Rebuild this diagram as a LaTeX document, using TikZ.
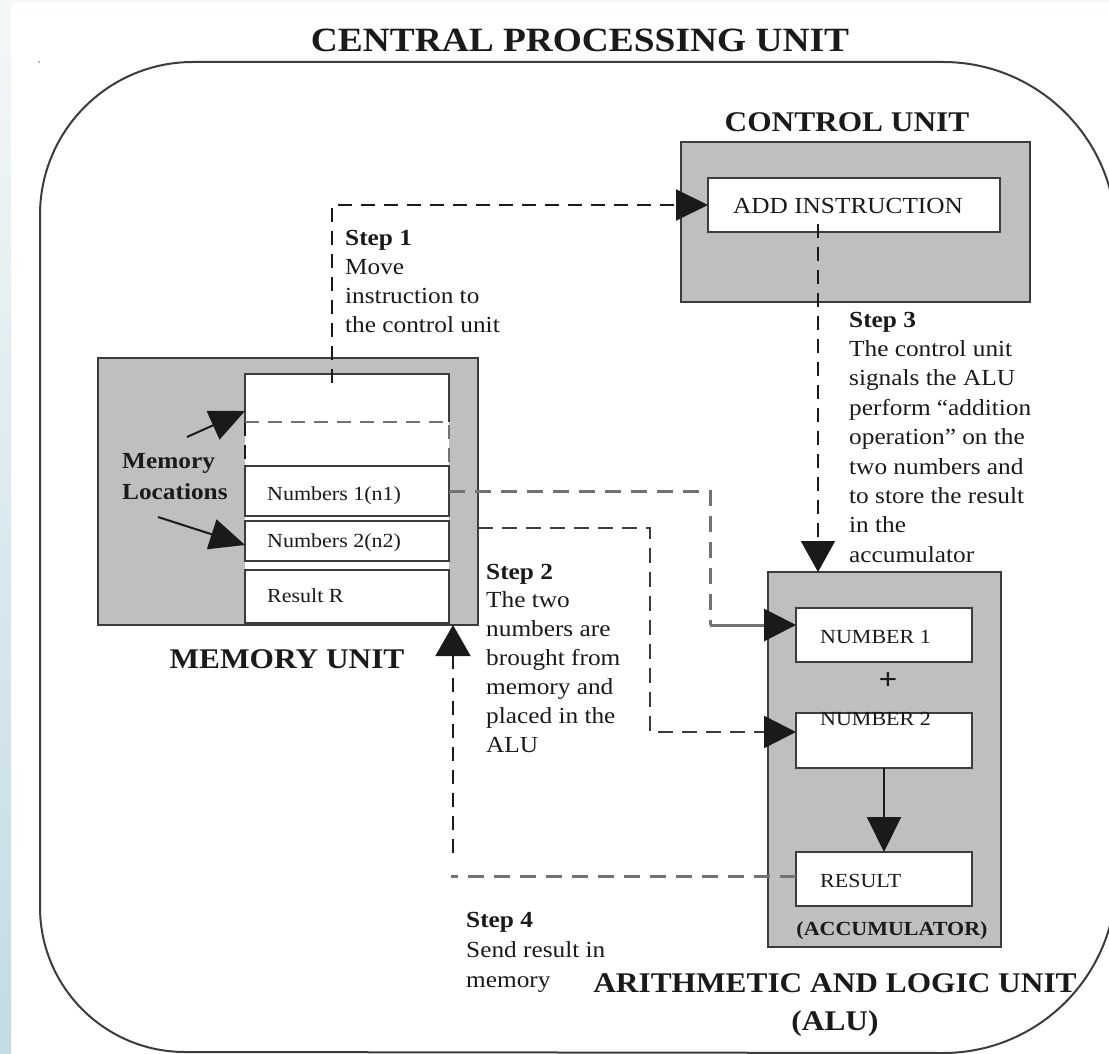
\documentclass[tikz,border=0pt]{standalone}
\usepackage{fontspec}
\setmainfont{Liberation Serif}[FakeStretch=1.1]
\usetikzlibrary{arrows.meta}
\definecolor{boxgray}{HTML}{BFBFBF}
\definecolor{edge}{HTML}{3C3C3C}
\definecolor{ink}{HTML}{1A1A1A}
\definecolor{dashgray}{HTML}{727272}
\definecolor{stripTop}{HTML}{F4F7F8}
\definecolor{stripBot}{HTML}{C3DBE3}

\begin{document}
\begin{tikzpicture}[x=1pt,y=-1pt,
  unitbox/.style={draw=edge, line width=2.8pt, fill=boxgray, inner sep=0pt, outer sep=0pt, anchor=north west},
  cellbox/.style={draw=edge, line width=2.2pt, fill=white, inner sep=0pt, outer sep=0pt, anchor=north west},
  lbl/.style={inner sep=0pt, text=ink},
  body/.style={lbl, anchor=base west, font=\fontsize{23}{28}\selectfont},
  bodyb/.style={lbl, anchor=base west, font=\fontsize{23}{28}\selectfont\bfseries},
  small/.style={lbl, anchor=base west, font=\fontsize{20}{24}\selectfont},
  heading/.style={lbl, anchor=base, font=\fontsize{28.5}{34}\selectfont\bfseries},
  darkdash/.style={draw=ink, line width=2pt, dash pattern=on 14pt off 9pt},
  greydash/.style={draw=dashgray, line width=3pt, dash pattern=on 16pt off 10pt},
  headtip/.style 2 args={-{Triangle[length=#1pt,width=#2pt,color=ink]}},
]
\useasboundingbox (0,0) rectangle (1109,1054);
\clip (0,0) rectangle (1109,1054);

% page background and left strip
\fill[white] (0,0) rectangle (1109,1054);
\shade[top color=stripTop, bottom color=stripBot] (0,0) rectangle (11,1054);
\fill[stripTop] (11,0) rectangle (1109,3);
\fill[edge!60] (39,62) circle (1pt);

% CPU outline with rounded corners
\draw[edge, line width=2pt]
  (193,62) -- (943,62) arc[start angle=-90, end angle=0, radius=173]
  -- (1116,880) arc[start angle=0, end angle=90, radius=173]
  -- (185,1052) arc[start angle=90, end angle=180, radius=145]
  -- (40,215) arc[start angle=180, end angle=270, radius=153] -- cycle;

\node[lbl, anchor=base, font=\fontsize{34}{40}\selectfont\bfseries] (cputitle) at (580,52) {CENTRAL PROCESSING UNIT};

% ---------------- control unit
\node[heading] (cutitle) at (847,132) {CONTROL UNIT};
\node[unitbox, minimum width=349pt, minimum height=160pt] (cu) at (681,142) {};
\node[cellbox, minimum width=292pt, minimum height=54pt] (add) at (708,178) {};
\node[body] (addtxt) at (733,214) {ADD INSTRUCTION};

% ---------------- memory unit
\node[unitbox, minimum width=380pt, minimum height=267pt] (mem) at (98,358) {};
\fill[white] (245,374) rectangle (449,623);
\draw[edge, line width=2.2pt] (245,422) |- (449,374) -- (449,422);
\draw[darkdash, line width=2pt] (245,422) -- (245,466);
\draw[dashgray, line width=2.2pt, dash pattern=on 14pt off 9pt] (245,422) -- (449,422) -- (449,466);
\node[cellbox, minimum width=204pt, minimum height=50pt] (n1cell) at (245,466) {};
\node[cellbox, minimum width=204pt, minimum height=40pt] (n2cell) at (245,521) {};
\node[cellbox, minimum width=204pt, minimum height=53pt] (rcell) at (245,570) {};
\node[small] (n1txt) at (267,500) {Numbers 1(n1)};
\node[small] (n2txt) at (267,547) {Numbers 2(n2)};
\node[small] (rtxt) at (267,602) {Result R};
\node[bodyb] (ml1) at (122,468) {Memory};
\node[bodyb] (ml2) at (122,499) {Locations};
\coordinate (mla) at (187,437);
\coordinate (mlb) at (158,517);
\coordinate (mlat) at (245,411);
\coordinate (mlbt) at (245,545);
\draw[ink, line width=2pt, headtip={35}{31}] (mla) -- (mlat);
\draw[ink, line width=2pt, headtip={35}{31}] (mlb) -- (mlbt);
\node[heading] (memtitle) at (287,668) {MEMORY UNIT};

% ---------------- arithmetic and logic unit
\node[unitbox, minimum width=233pt, minimum height=375pt] (alu) at (768,572) {};
\node[cellbox, minimum width=176pt, minimum height=54pt] (n1box) at (796,608) {};
\node[cellbox, minimum width=176pt, minimum height=55pt] (n2box) at (796,713) {};
\node[cellbox, minimum width=176pt, minimum height=54pt] (resbox) at (796,852) {};
\node[small] (n1boxtxt) at (820,643) {NUMBER 1};
\node[small] (n2boxtxt) at (820,725) {NUMBER 2};
\node[small] (restxt) at (820,887) {RESULT};
\node[lbl, font=\fontsize{30}{34}\selectfont\bfseries] (plus) at (888,681) {+};
\node[lbl, anchor=base, font=\fontsize{20}{24}\selectfont\bfseries] (acc) at (892,935) {(ACCUMULATOR)};
\draw[ink, line width=2pt, headtip={35}{34}] (n2box.south) -- (resbox.north);
\node[heading] (alutitle) at (835,992) {ARITHMETIC AND LOGIC UNIT};
\node[heading] (alutitle2) at (835,1030) {(ALU)};

% ---------------- step 1: memory to control unit
\coordinate (s1a) at (332,383);
\draw[darkdash, headtip={32}{31}] (s1a) |- (add.west);
\node[bodyb] (s1h) at (345,245) {Step 1};
\foreach \t [count=\i] in {Move, instruction to, the control unit}
  \node[body] (s1l\i) at (345,{245+29*\i}) {\t};

% ---------------- step 2: numbers to the ALU
\coordinate (s2a) at (710,625);
\draw[greydash] (n1cell.east) -| (s2a);
\draw[dashgray, line width=3pt, headtip={32}{32}] (s2a) -- (s2a -| n1box.west);
\coordinate (s2b0) at (478,528);
\coordinate (s2b) at (650,732);
\draw[draw=edge, line width=2.5pt, dash pattern=on 15pt off 9pt, headtip={32}{32}] (s2b0) -| (s2b) -- (s2b -| n2box.west);
\node[bodyb] (s2h) at (486,579) {Step 2};
\foreach \t [count=\i] in {The two, numbers are, brought from, memory and, placed in the, ALU}
  \node[body] (s2l\i) at (486,{579+28.9*\i}) {\t};

% ---------------- step 3: control unit signals the ALU
\coordinate (s3a) at (818,224);
\draw[darkdash, headtip={31}{34}] (s3a) -- (s3a |- alu.north);
\node[bodyb] (s3h) at (849,327) {Step 3};
\foreach \t [count=\i] in {The control unit, signals the ALU, perform “addition, operation” on the, two numbers and, to store the result, in the, accumulator}
  \node[body] (s3l\i) at (849,{327+29.4*\i}) {\t};

% ---------------- step 4: result back to memory
\coordinate (s4a) at (451,876);
\draw[greydash] (resbox.west |- s4a) -- (s4a);
\coordinate (s4b) at (453,853);
\draw[darkdash, headtip={31}{35}] (s4b) -- (s4b |- mem.south);
\node[bodyb] (s4h) at (466,927) {Step 4};
\node[body] (s4l1) at (466,957) {Send result in};
\node[body] (s4l2) at (466,987) {memory};
\end{tikzpicture}
\end{document}
